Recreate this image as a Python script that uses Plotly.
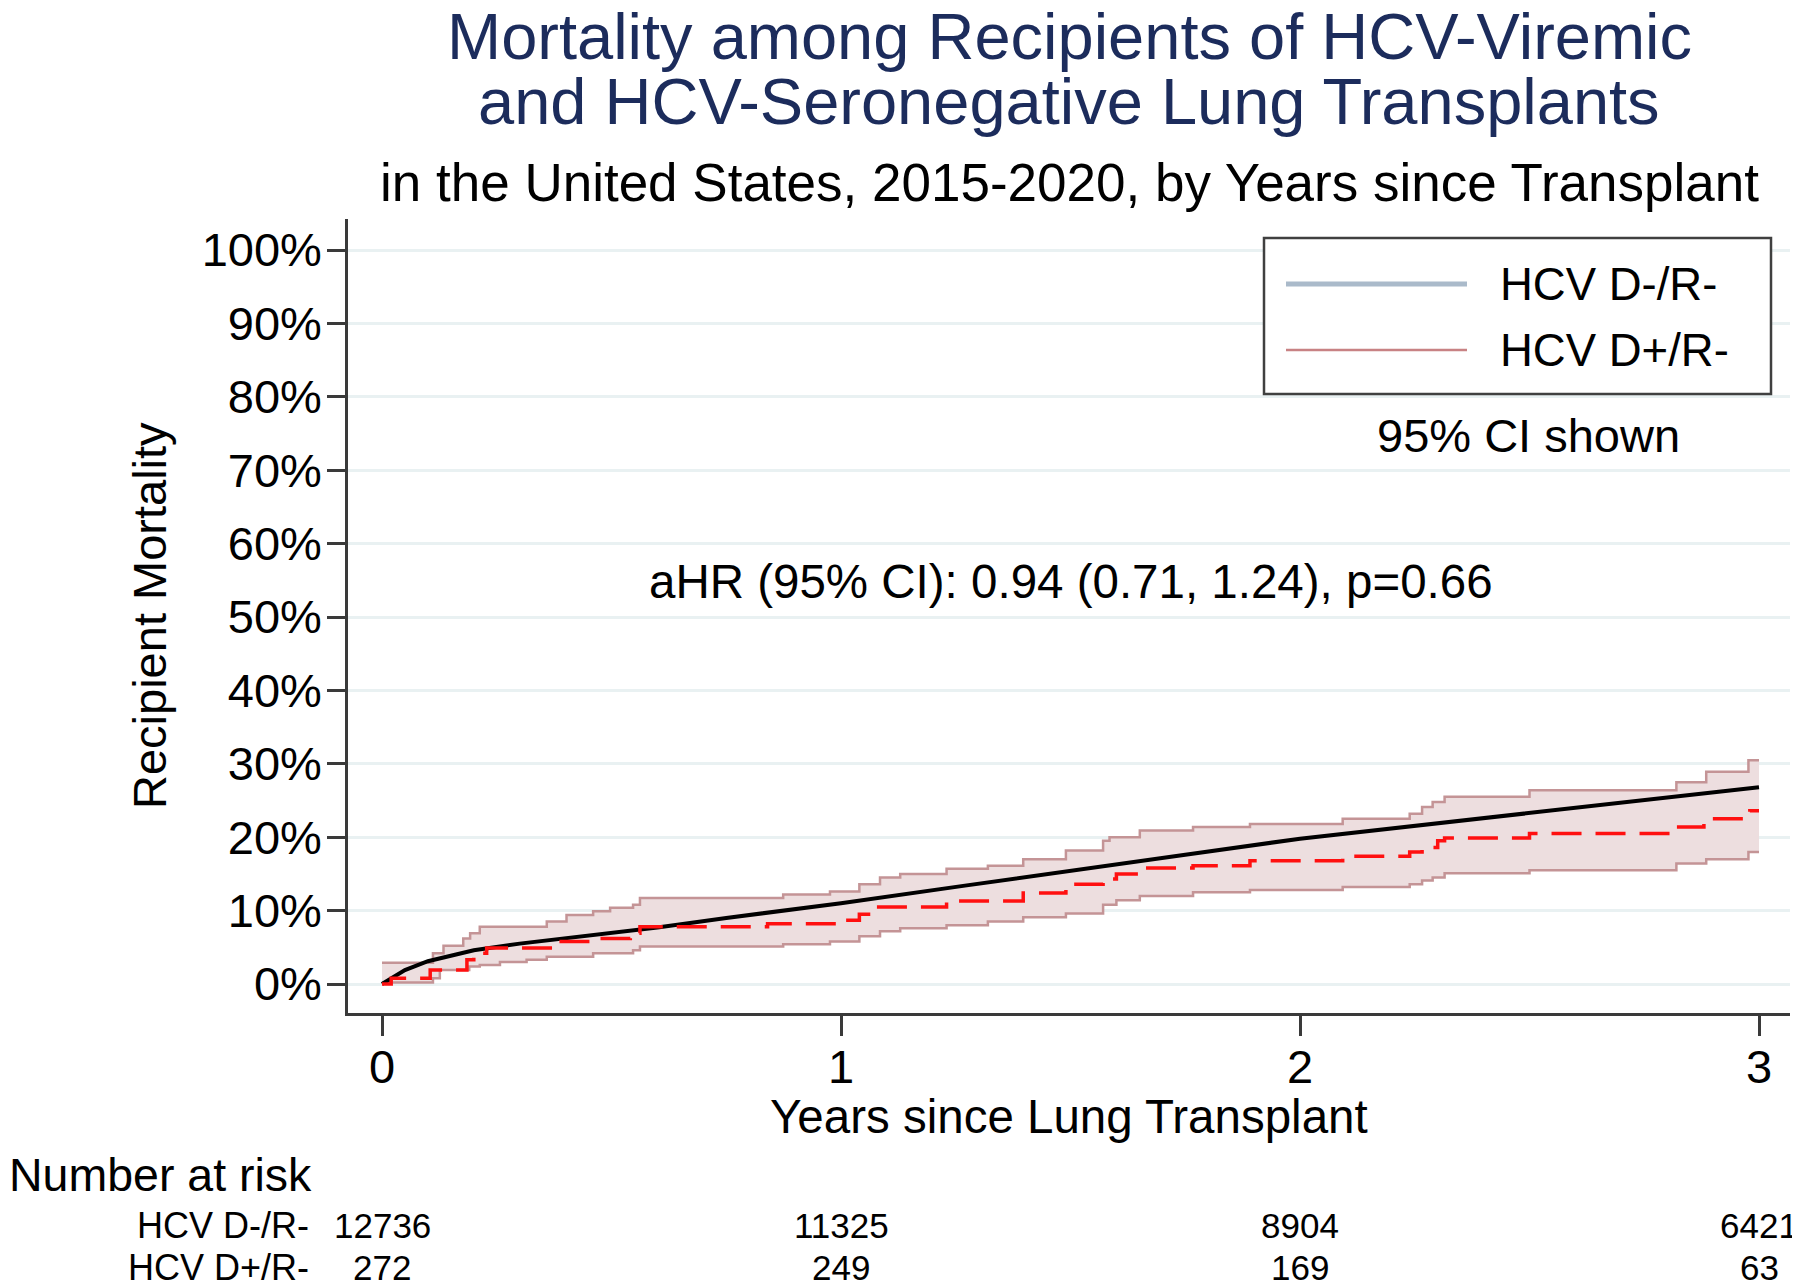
import plotly.graph_objects as go

# ---------------- data ----------------
# HCV D-/R- Kaplan-Meier mortality (%), effectively smooth
neg_years = [0, 0.02, 0.05, 0.1, 0.15, 0.2, 0.3, 0.4, 0.5, 0.6, 0.75, 0.9, 1.0,
             1.27, 1.56, 1.75, 2.0, 2.27, 2.5, 2.81, 3.0]
neg_mort = [0, 0.8, 1.9, 3.1, 3.9, 4.6, 5.5, 6.2, 7.0, 7.7, 9.0, 10.2, 11.0,
            13.4, 16.0, 17.6, 19.8, 21.7, 23.3, 25.4, 26.8]

# HCV D+/R- step estimate (%)
pos_years = [0, 0.02, 0.105, 0.185, 0.2, 0.228, 0.373, 0.468, 0.541, 0.562, 0.84,
             0.99, 1.04, 1.078, 1.23, 1.397, 1.49, 1.571, 1.60, 1.651, 1.767, 1.891,
             2.093, 2.239, 2.266, 2.30, 2.315, 2.50, 2.82, 2.88, 2.98, 3.0]
pos_mort = [0, 0.8, 1.9, 3.3, 4.2, 4.9, 5.8, 6.2, 6.9, 7.8, 8.2,
            8.7, 9.5, 10.5, 11.3, 12.4, 13.6, 14.3, 15.0, 15.8, 16.1, 16.8,
            17.4, 18.0, 18.6, 19.5, 19.9, 20.5, 21.4, 22.5, 23.6, 23.6]

# 95% CI for HCV D+/R-
pos_ci_hi_years = [0, 0.111, 0.134, 0.177, 0.192, 0.213, 0.359, 0.402, 0.46, 0.497,
                   0.547, 0.562, 0.874, 0.976, 1.04, 1.085, 1.129, 1.23, 1.32, 1.397,
                   1.49, 1.571, 1.585, 1.651, 1.767, 1.891, 2.093, 2.239, 2.266, 2.289,
                   2.315, 2.50, 2.82, 2.885, 2.977, 3.0]
pos_ci_hi = [2.9, 4.2, 5.2, 6.2, 6.9, 7.8, 8.5, 9.4, 9.9, 10.4,
             10.8, 11.7, 12.2, 12.6, 13.6, 14.5, 15.0, 15.7, 16.1, 17.0,
             18.2, 19.5, 20.0, 20.9, 21.4, 21.8, 22.5, 23.2, 24.1, 24.8,
             25.5, 26.4, 27.5, 28.9, 30.5, 30.5]
pos_ci_lo_years = [0, 0.111, 0.126, 0.19, 0.213, 0.257, 0.315, 0.359, 0.46, 0.547,
                   0.562, 0.874, 0.976, 1.04, 1.085, 1.129, 1.23, 1.32, 1.397, 1.49,
                   1.571, 1.60, 1.651, 1.767, 1.891, 2.093, 2.239, 2.266, 2.289, 2.315,
                   2.50, 2.82, 2.885, 2.977, 3.0]
pos_ci_lo = [0.2, 0.8, 1.9, 2.4, 2.6, 3.0, 3.3, 3.7, 4.2, 4.6,
             5.1, 5.4, 5.8, 6.5, 7.2, 7.6, 8.0, 8.5, 9.1, 9.6,
             10.8, 11.4, 12.0, 12.5, 12.8, 13.2, 13.6, 14.1, 14.5, 15.1,
             15.5, 16.4, 17.0, 18.0, 18.0]

group_names = ["HCV D-/R-", "HCV D+/R-"]
risk_times = [0, 1, 2, 3]
risk_neg = [12736, 11325, 8904, 6421]
risk_pos = [272, 249, 169, 63]
y_ticks = [0, 10, 20, 30, 40, 50, 60, 70, 80, 90, 100]
x_ticks = [0, 1, 2, 3]

title_line1 = "Mortality among Recipients of HCV-Viremic"
title_line2 = "and HCV-Seronegative Lung Transplants"
subtitle = "in the United States, 2015-2020, by Years since Transplant"
hr_text = "aHR (95% CI): 0.94 (0.71, 1.24), p=0.66"

# ---------------- styling ----------------
FONT = "Liberation Sans, Arial, Helvetica, sans-serif"
NAVY = "#1c2c5c"
BAND_FILL = "rgb(237,222,223)"
BAND_EDGE = "rgb(196,148,150)"
NEG_LEG = "rgb(170,186,202)"
AXIS = "#3a3a3a"

fig = go.Figure()

# CI band (lower edge then upper filled to it)
fig.add_trace(go.Scatter(x=pos_ci_lo_years, y=pos_ci_lo, mode="lines",
                         line=dict(shape="hv", color=BAND_EDGE, width=2.5),
                         showlegend=False, hoverinfo="skip"))
fig.add_trace(go.Scatter(x=pos_ci_hi_years, y=pos_ci_hi, mode="lines",
                         line=dict(shape="hv", color=BAND_EDGE, width=2.5),
                         fill="tonexty", fillcolor=BAND_FILL,
                         showlegend=False, hoverinfo="skip"))
# D-/R- curve
fig.add_trace(go.Scatter(x=neg_years, y=neg_mort, mode="lines",
                         line=dict(color="black", width=4),
                         name=group_names[0], showlegend=False))
# D+/R- curve
fig.add_trace(go.Scatter(x=pos_years, y=pos_mort, mode="lines",
                         line=dict(shape="hv", color="#ff1010", width=3.5, dash="30px,14px"),
                         name=group_names[1], showlegend=False))

# page has an 8px body margin: figure is drawn 8px smaller and offset
OFF = 8
W, H = 1800 - OFF, 1288 - OFF
# plot area edges in reference-screenshot pixels
PL, PR, PT, PB = 348, 1790, 219, 1013
L, T = PL - OFF, PT - OFF
R = W - (PR - OFF)
B = H - (PB - OFF)
plot_w = PR - PL
plot_h = PB - PT


def px_x(px):
    return (px - PL) / plot_w


def px_y(py):
    return (PB - py) / plot_h


annotations = []
# titles
annotations.append(dict(text=title_line1, xref="paper", yref="paper", x=0.5, y=px_y(36),
                         xanchor="center", yanchor="middle", showarrow=False,
                         font=dict(family=FONT, size=65, color=NAVY)))
annotations.append(dict(text=title_line2, xref="paper", yref="paper", x=0.5, y=px_y(101),
                         xanchor="center", yanchor="middle", showarrow=False,
                         font=dict(family=FONT, size=65, color=NAVY)))
annotations.append(dict(text=subtitle, xref="paper", yref="paper", x=0.5, y=px_y(182),
                         xanchor="center", yanchor="middle", showarrow=False,
                         font=dict(family=FONT, size=53, color="black")))
# in-plot texts
annotations.append(dict(text=hr_text, xref="x", yref="y", x=1.5, y=54.8,
                         xanchor="center", yanchor="middle", showarrow=False,
                         font=dict(family=FONT, size=47.5, color="black")))
annotations.append(dict(text="95% CI shown", xref="x", yref="y", x=2.497, y=74.7,
                         xanchor="center", yanchor="middle", showarrow=False,
                         font=dict(family=FONT, size=47, color="black")))
# axis titles
annotations.append(dict(text="Recipient Mortality", xref="paper", yref="paper",
                         x=px_x(149), y=0.5, textangle=-90,
                         xanchor="center", yanchor="middle", showarrow=False,
                         font=dict(family=FONT, size=47, color="black")))
annotations.append(dict(text="Years since Lung Transplant", xref="paper", yref="paper",
                         x=0.5, y=px_y(1116),
                         xanchor="center", yanchor="middle", showarrow=False,
                         font=dict(family=FONT, size=47.5, color="black")))
# number at risk table
annotations.append(dict(text="Number at risk", xref="paper", yref="paper",
                         x=px_x(7), y=px_y(1175),
                         xanchor="left", yanchor="middle", showarrow=False,
                         font=dict(family=FONT, size=46.5, color="black")))
for name, counts, ypx in [(group_names[0], risk_neg, 1225), (group_names[1], risk_pos, 1267)]:
    annotations.append(dict(text=name, xref="paper", yref="paper",
                             x=px_x(311), y=px_y(ypx),
                             xanchor="right", yanchor="middle", showarrow=False,
                             font=dict(family=FONT, size=36, color="black")))
    for t, c in zip(risk_times, counts):
        annotations.append(dict(text=str(c), xref="x", yref="paper",
                                 x=t, y=px_y(ypx),
                                 xanchor="center", yanchor="middle", showarrow=False,
                                 font=dict(family=FONT, size=35, color="black")))

# manual legend
shapes = []
shapes.append(dict(type="rect", xref="paper", yref="paper",
                   x0=px_x(1264), x1=px_x(1771), y0=px_y(394), y1=px_y(238),
                   line=dict(color="#404040", width=2.5), fillcolor="white", layer="above"))
leg_rows = [(group_names[0], NEG_LEG, 5, 284), (group_names[1], "rgb(200,130,132)", 2.5, 350)]
for name, col, wd, ypx in leg_rows:
    shapes.append(dict(type="line", xref="paper", yref="paper",
                       x0=px_x(1286), x1=px_x(1467), y0=px_y(ypx), y1=px_y(ypx),
                       line=dict(color=col, width=wd), layer="above"))
    annotations.append(dict(text=name, xref="paper", yref="paper",
                             x=px_x(1498), y=px_y(ypx),
                             xanchor="left", yanchor="middle", showarrow=False,
                             font=dict(family=FONT, size=45.5, color="black")))

x_min = -34 / 459
x_max = 3 + 31 / 459
y_min = -(1013 - 984) / 7.34
y_max = 100 + (250 - 219) / 7.34

fig.update_layout(
    width=W, height=H,
    margin=dict(l=L, r=R, t=T, b=B, pad=0),
    paper_bgcolor="white", plot_bgcolor="white",
    showlegend=False,
    font=dict(family=FONT, size=47, color="black"),
    annotations=annotations,
    shapes=shapes,
    xaxis=dict(range=[x_min, x_max], tickvals=x_ticks, ticktext=[str(v) for v in x_ticks],
               showgrid=False, zeroline=False, showline=True, linecolor=AXIS, linewidth=2.5,
               ticks="outside", ticklen=20, tickwidth=2.5, tickcolor=AXIS,
               ticklabelstandoff=-9,
               tickfont=dict(family=FONT, size=47, color="black")),
    yaxis=dict(range=[y_min, y_max], tickvals=y_ticks, ticktext=[f"{v}%" for v in y_ticks],
               showgrid=True, gridcolor="#e9f1f2", gridwidth=3, zeroline=False,
               showline=True, linecolor=AXIS, linewidth=2.5,
               ticks="outside", ticklen=18, tickwidth=2.5, tickcolor=AXIS,
               ticklabelstandoff=-4,
               tickfont=dict(family=FONT, size=47, color="black")),
)

fig.write_html("out.html")
